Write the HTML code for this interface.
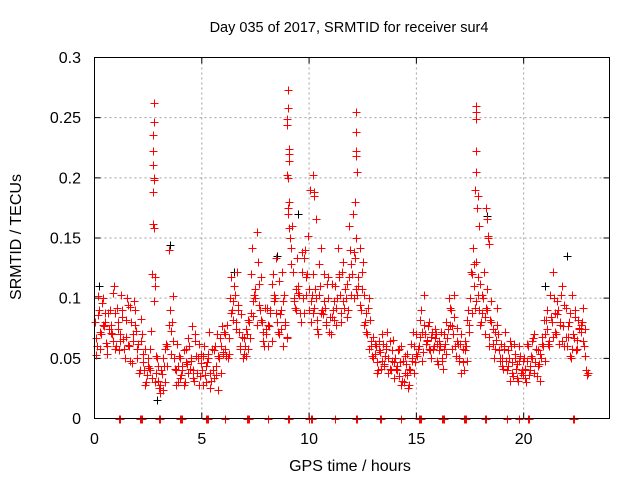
<!DOCTYPE html>
<html><head><meta charset="utf-8"><title>SRMTID sur4</title>
<style>
html,body{margin:0;padding:0;background:#fff;}
svg{display:block;font-family:"Liberation Sans",sans-serif;}
</style></head>
<body>
<svg id="chart" width="640" height="480" viewBox="0 0 640 480" xmlns="http://www.w3.org/2000/svg">
<rect x="0" y="0" width="640" height="480" fill="#fff"/>
<text x="349" y="32" font-size="14.5" text-anchor="middle" fill="#000">Day 035 of 2017, SRMTID for receiver sur4</text>
<text transform="translate(21,237) rotate(-90)" font-size="16" text-anchor="middle" fill="#000">SRMTID / TECUs</text>
<text x="350" y="471" font-size="16" text-anchor="middle" fill="#000">GPS time / hours</text>
<g id="grid"></g>
<g id="ticks"></g>
<g id="black"></g>
<g id="red"></g>
<rect x="94.5" y="57.5" width="515" height="361" fill="none" stroke="#000" stroke-width="1"/>
</svg>
<script>
const xTicks=[0,5,10,15,20];
const yTicks=[0,0.05,0.1,0.15,0.2,0.25,0.3];
const yTickLabels=["0","0.05","0.1","0.15","0.2","0.25","0.3"];
const sampleStart=0, sampleStep=0.1;
const redA=[.08,.06,.09,.07,.1,.08,.06,.09,.07,.11,
.06,.08,.07,.09,.05,.1,.06,.08,.07,.09,
.05,.04,.07,.04,.03,.05,.04,.12,.03,.05,
.025,.04,.05,.03,.06,.09,.08,.05,.04,.03,
.05,.04,.03,.045,.06,.05,.04,.07,.05,.035,
.04,.06,.03,.05,.025,.04,.06,.07,.05,.06,
.055,.07,.05,.1,.09,.11,.08,.09,.06,.05,
.06,.07,.08,.12,.085,.1,.13,.09,.08,.06,
.07,.06,.09,.12,.1,.08,.07,.09,.06,.08,
.17,.15,.16,.1,.09,.11,.08,.1,.14,.12,
.09,.08,.12,.1,.07,.11,.09,.12,.08,.1,
.07,.09,.11,.1,.12,.08,.13,.1,.09,.14,
.12,.1,.15,.11,.09,.13,.08,.07,.1,.06,
.05,.06,.04,.055,.07,.045,.06,.05,.04,.065,
.05,.04,.035,.06,.03,.045,.025,.04,.05,.06,
.07,.06,.09,.055,.07,.065,.08,.05,.06,.07,
.045,.06,.05,.07,.08,.1,.09,.07,.06,.075,
.05,.07,.04,.06,.09,.1,.12,.11,.13,.09,
.08,.1,.07,.09,.06,.08,.05,.065,.07,.05,
.05,.06,.04,.05,.06,.035,.05,.045,.06,.04,
.05,.03,.06,.04,.05,.07,.035,.045,.05,.06,
.07,.09,.06,.08,.1,.07,.09,.08,.11,.06,
.06,.08,.05,.07,.09,.065,.075,.08,.06,.04];
const redB=[.053,.102,.072,.096,.077,.063,.088,.071,.104,.058,
.092,.057,.103,.066,.082,.061,.093,.046,.098,.073,
.062,.083,.047,.058,.036,.042,.073,.2,.052,.031,
.021,.037,.044,.062,.14,.073,.102,.041,.062,.052,
.036,.057,.047,.067,.041,.077,.031,.052,.062,.046,
.052,.036,.047,.072,.031,.057,.036,.052,.067,.077,
.072,.052,.067,.118,.082,.103,.122,.072,.087,.067,
.052,.082,.067,.142,.103,.155,.112,.082,.072,.092,
.092,.077,.112,.103,.133,.072,.087,.122,.103,.067,
.22,.142,.122,.092,.133,.103,.122,.133,.103,.152,
.19,.103,.092,.082,.103,.142,.087,.092,.112,.072,
.112,.082,.092,.142,.103,.122,.092,.112,.16,.103,
.17,.133,.103,.142,.122,.103,.072,.092,.082,.052,
.062,.047,.057,.041,.062,.052,.072,.041,.057,.047,
.041,.057,.047,.031,.052,.036,.041,.062,.072,.047,
.052,.082,.072,.103,.062,.077,.057,.072,.067,.062,
.057,.072,.041,.062,.067,.092,.077,.103,.052,.062,
.062,.047,.057,.082,.072,.122,.142,.092,.103,.112,
.103,.122,.092,.152,.082,.062,.072,.092,.057,.062,
.041,.072,.057,.031,.047,.062,.041,.031,.052,.036,
.041,.062,.036,.052,.067,.047,.057,.031,.062,.082,
.082,.062,.103,.122,.072,.087,.062,.103,.077,.092,
.077,.052,.103,.067,.057,.082,.072,.092,.052,.036];
const redC=[.067,.086,.058,.078,.088,.054,.074,.078,.064,.088,
.074,.064,.084,.058,.068,.094,.048,.064,.078,.058,
.038,.064,.054,.028,.044,.058,.034,.098,.038,.044,
.028,.024,.058,.044,.078,.054,.064,.028,.044,.034,
.044,.028,.058,.038,.048,.034,.064,.038,.028,.054,
.028,.044,.054,.038,.058,.034,.044,.024,.038,.054,
.058,.078,.054,.088,.098,.074,.094,.058,.068,.054,
.074,.058,.088,.098,.108,.078,.094,.118,.064,.074,
.078,.088,.064,.098,.088,.114,.074,.098,.078,.068,
.158,.128,.098,.108,.104,.088,.138,.088,.118,.108,
.098,.088,.108,.074,.128,.088,.098,.078,.118,.084,
.084,.098,.078,.118,.088,.098,.108,.084,.118,.128,
.138,.108,.118,.094,.108,.078,.088,.058,.064,.068,
.054,.038,.064,.048,.044,.058,.038,.064,.048,.034,
.044,.058,.028,.048,.038,.054,.028,.048,.038,.054,
.058,.068,.048,.078,.064,.058,.068,.058,.074,.048,
.064,.048,.058,.054,.074,.078,.058,.084,.064,.048,
.038,.058,.064,.048,.078,.088,.128,.098,.118,.078,
.088,.084,.108,.068,.098,.074,.058,.078,.048,.044,
.058,.048,.044,.064,.038,.054,.034,.048,.038,.048,
.034,.048,.044,.064,.038,.058,.044,.054,.068,.048,
.074,.064,.084,.068,.088,.098,.078,.064,.094,.068,
.068,.088,.058,.084,.058,.074,.078,.064,.074,.038];
const spikeT=[2.75,2.75,2.73,2.74,2.72,2.76,2.73,2.72,2.78,2.8,2.82,
9.0,9.0,8.98,8.99,9.05,9.08,8.98,9.04,9.07,9.02,
10.2,10.25,10.22,10.3,
12.2,12.2,12.18,12.19,12.25,12.15,
17.8,17.8,17.8,17.8,17.8,17.75,17.85,17.82,17.9,
18.25,18.3,18.35,18.4];
const spikeV=[.262,.246,.236,.222,.211,.198,.188,.162,.158,.118,.11,
.273,.258,.249,.244,.224,.214,.202,.2,.18,.175,
.202,.188,.185,.166,
.255,.238,.222,.218,.205,.18,
.26,.255,.249,.222,.205,.19,.185,.175,.16,
.175,.166,.15,.145];
const blackT=[2.75,9.0,12.2,17.8,18.3,3.5,0.2,6.5,8.5,9.5,22.0,2.9,21.0];
const blackV=[.246,.258,.222,.26,.168,.144,.11,.122,.135,.17,.135,.015,.11];
const zeroT=[1.15,1.2,2.1,2.15,2.2,3.0,3.05,4.0,4.05,4.1,5.2,5.25,5.3,6.1,7.1,7.15,7.2,8.1,9.0,9.05,10.0,10.1,10.15,11.2,12.2,12.25,13.3,13.35,14.3,15.1,15.15,15.2,16.2,16.25,16.3,17.2,17.25,17.3,18.2,18.25,19.2,19.8,20.2,20.25,22.3,22.35];

const X0=94.5,X1=609.5,Y0=418.5,Y1=57.5,XMAX=24,YMAX=0.3;
const sx=t=>X0+(X1-X0)*t/XMAX;
const sy=v=>Y0-(Y0-Y1)*v/YMAX;
const NS="http://www.w3.org/2000/svg";
const grid=document.getElementById('grid'),ticks=document.getElementById('ticks');
function mk(tag,attrs,parent){const e=document.createElementNS(NS,tag);for(const k in attrs)e.setAttribute(k,attrs[k]);parent.appendChild(e);return e;}
xTicks.forEach(t=>{
  const x=sx(t);
  if(t>0){const g=mk('line',{x1:x,y1:Y1,x2:x,y2:Y0,stroke:'#a0a0a0','stroke-dasharray':'2,3'},grid);
  
  }
  const a=mk('path',{d:`M${x} ${Y0}v-6M${x} ${Y1}v6`,stroke:'#000'},ticks);
  
  
  const l=mk('text',{x:x,y:444,'font-size':16,'text-anchor':'middle'},ticks);l.textContent=String(t);
  
  
});
yTicks.forEach((v,i)=>{
  const y=sy(v);
  if(v>0&&v<YMAX){const g=mk('line',{x1:X0,y1:y,x2:X1,y2:y,stroke:'#a0a0a0','stroke-dasharray':'2,3'},grid);
  
  }
  const a=mk('path',{d:`M${X0} ${y}h6M${X1} ${y}h-6`,stroke:'#000'},ticks);
  
  
  const l=mk('text',{x:81,y:y+5.5,'font-size':16,'text-anchor':'end'},ticks);l.textContent=yTickLabels[i];
  
  
});
function plus(g,t,v,color){
  const x=Math.round(sx(t))+0.5,y=Math.round(sy(v))+0.5;
  const p=mk('path',{d:`M${x-4} ${y}h8M${x} ${y-4}v8`,stroke:color,'stroke-width':1,fill:'none'},g);
  
  
}
const blk=document.getElementById('black'),red=document.getElementById('red');
blackT.forEach((t,i)=>plus(blk,t,blackV[i],'#000'));
[[redA,0],[redB,0.05],[redC,0.075]].forEach(([arr,off])=>{
  arr.forEach((v,i)=>plus(red,sampleStart+i*sampleStep+off,v,'#ff0000'));
});
spikeT.forEach((t,i)=>plus(red,t,spikeV[i],'#ff0000'));
zeroT.forEach(t=>plus(red,t,0,'#ff0000'));
</script>
</body></html>
